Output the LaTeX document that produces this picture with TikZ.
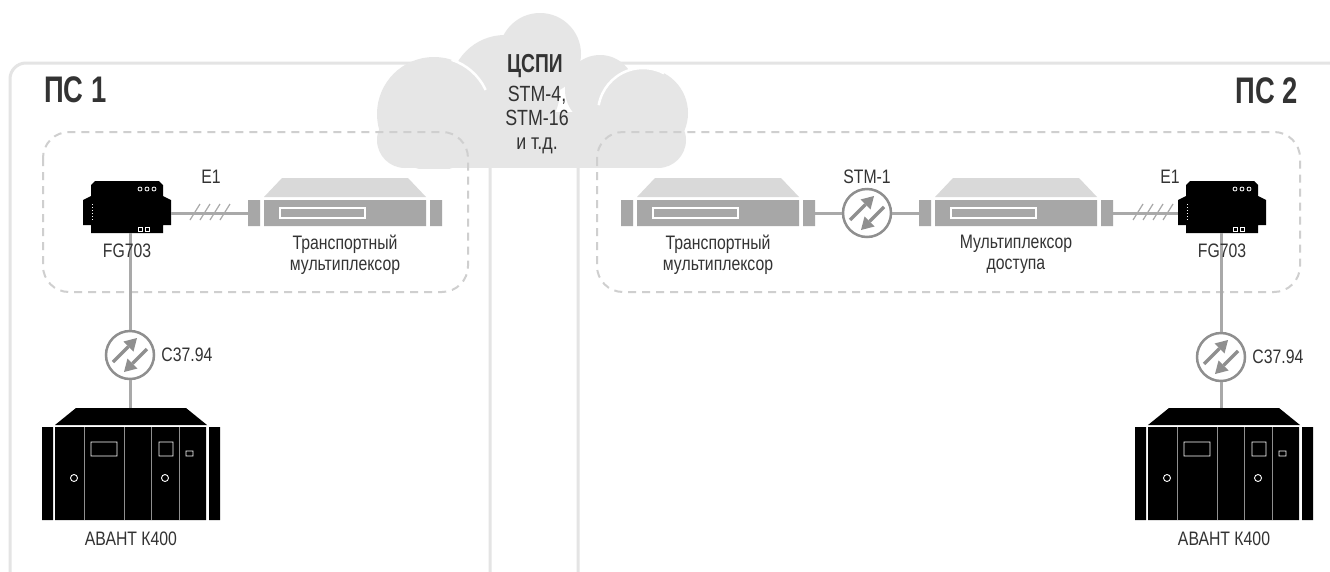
\documentclass[tikz,border=0pt]{standalone}
\usepackage{fontspec}
\setmainfont{Liberation Sans}[FakeStretch=0.81]
\newfontfamily\headfont{Liberation Sans}[FakeStretch=0.74]
\usetikzlibrary{positioning}

\definecolor{framegray}{HTML}{E4E4E4}
\definecolor{dashgray}{HTML}{CFCFCF}
\definecolor{cloudgray}{HTML}{E6E6E6}
\definecolor{linegray}{HTML}{A9A9A9}
\definecolor{devgray}{HTML}{A7A7A7}
\definecolor{devtop}{HTML}{D9D9D9}
\definecolor{icongray}{HTML}{8F8F8F}
\definecolor{textgray}{HTML}{333333}

% device icons, drawn around the centre of their node
\tikzset{
  fg703/.pic={
    \fill[black] (-32,-26) -- (32,-26) -- (36,-22) -- (36,-11) -- (44,-7) -- (44,18)
      -- (36,18) -- (36,26) -- (-36,26) -- (-36,18) -- (-44,18) -- (-44,-7)
      -- (-36,-11) -- (-36,-22) -- cycle;
    \draw[white, line width=0.8pt] (13,-18) circle (2) (20,-18) circle (2) (27,-18) circle (2);
    \foreach \d in {-3,0,...,12}
      \fill[white] (-35.5,\d) rectangle (-34,\d+1.3);
    \draw[white, line width=0.8pt] (11,20) rectangle (15,24) (18,20) rectangle (22,24);
  },
  mux/.pic={
    \fill[devtop] (-63,-35) -- (63,-35) -- (81,-16) -- (-81,-16) -- cycle;
    \fill[devgray] (-97,-13) rectangle (-85,13) (-81,-13) rectangle (81,13) (85,-13) rectangle (97,13);
    \draw[white, line width=1.5pt] (-65,-5) rectangle (20,5);
  },
  rack/.pic={
    \fill[black] (-55,-56) -- (55,-56) -- (76,-39) -- (-76,-39) -- cycle;
    \fill[black] (-76,-37) rectangle (75,56) (-89,-37) rectangle (-78,56) (78,-37) rectangle (89,56);
    \foreach \s in {-47,-7,20,48}
      \draw[icongray, line width=0.8pt] (\s,-37) -- (\s,56);
    \draw[white, line width=0.9pt] (-40,-22) rectangle (-14,-8) (28,-22) rectangle (42,-8)
      (55,-13) rectangle (62,-8) (-57,14) circle (3.5) (34,14) circle (3.5);
  }
}

\begin{document}
\begin{tikzpicture}[x=1pt,y=-1pt]
  \tikzstyle{frame}=[draw=framegray, line width=3pt, rounded corners=16pt]
  \tikzstyle{zone}=[draw=dashgray, line width=2pt, dash pattern=on 8pt off 6pt, rounded corners=26pt]
  \tikzstyle{link}=[draw=linegray, line width=3pt]
  \tikzstyle{hatch}=[draw=linegray, line width=1.2pt]
  \tikzstyle{dev}=[inner sep=0pt, outer sep=0pt]
  \tikzstyle{lbl}=[text=textgray, font=\fontsize{19.5}{21}\selectfont, align=center, inner sep=0pt]
  \tikzstyle{title}=[text=textgray, font=\headfont\bfseries\fontsize{37}{37}\selectfont, inner sep=0pt]
  \tikzstyle{optic}=[circle, draw=icongray, line width=2.5pt, fill=white, minimum size=48pt,
    inner sep=0pt, path picture={
      \begin{scope}[shift={(path picture bounding box.center)}]
        % up-right arrow
        \draw[icongray, line width=3.5pt] (-17,7) -- (-1.5,-8.5);
        \fill[icongray] (7,-17) -- (3.5,-3.5) -- (-6.5,-13.5) -- cycle;
        % down-left arrow
        \draw[icongray, line width=3.5pt] (17,-6) -- (2.5,8.5);
        \fill[icongray] (-6,17) -- (7.5,13.5) -- (-2.5,3.5) -- cycle;
      \end{scope}}]

  \useasboundingbox (0,0) rectangle (1330,571);
  \clip (0,0) rectangle (1330,571);
  \fill[white] (0,0) rectangle (1330,571);

  % substations
  \draw[frame] (10,63) rectangle (490,590);
  \draw[frame] (578,63) rectangle (1350,590);
  \node[title, anchor=base west] (ps1) at (44,102) {ПС 1};
  \node[title, anchor=base east] (ps2) at (1298,103) {ПС 2};

  % transport network cloud
  \begin{scope}
    \clip (300,0) rectangle (760,168);
    \foreach \cx/\cy/\r in {405/140/28, 434/114/57, 505/90/55, 540/54/41,
                            600/90/35, 643/113/45, 658/140/28}
      \fill[cloudgray] (\cx,\cy) circle (\r);
    \fill[cloudgray] (405,112) rectangle (660,168);
  \end{scope}
  \draw[white, line width=2.5pt] (434,114) ++(-72:57) arc[start angle=-72, end angle=-25, radius=57];
  \draw[white, line width=2.5pt] (643,113) ++(-170:45) arc[start angle=-170, end angle=-62, radius=45];
  \node[text=textgray, font=\headfont\bfseries\fontsize{26}{26}\selectfont, inner sep=0pt, anchor=base]
    (cspi) at (535,72) {ЦСПИ};
  \node[lbl, font=\fontsize{22}{24}\selectfont, anchor=north] (rates) at (537,86)
    {STM-4,\\STM-16\\и т.д.};

  \draw[zone] (43,132) rectangle (468,292);
  \draw[zone] (597,132) rectangle (1300,292);

  % ПС 1
  \node[dev, minimum width=88pt, minimum height=52pt] (fgL) at (127,207) {};
  \pic at (fgL) {fg703};
  \node[dev, minimum width=194pt, minimum height=26pt] (tmuxL) at (345,213) {};
  \pic at (tmuxL) {mux};
  \node[optic] (optL) at (130,355) {};
  \node[dev, minimum width=178pt, minimum height=112pt] (rackL) at (131,464) {};
  \pic at (rackL) {rack};

  \draw[link] (tmuxL.west) -- (tmuxL.west -| fgL.east);
  \foreach \h in {190,200,210,220}
    \draw[hatch] (\h,220) -- ++(10,-16);
  \draw[link] (fgL.south -| optL) -- (optL.north);
  \draw[link] (optL.south) -- (rackL.north -| optL);

  \node[lbl] (e1L) at (211,177) {E1};
  \node[lbl, below=11pt of fgL] (fgLtxt) {FG703};
  \node[lbl, below=9pt of tmuxL] (tmuxLtxt) {Транспортный\\мультиплексор};
  \node[lbl, right=6pt of optL] (c37L) {C37.94};
  \node[lbl, below=12pt of rackL] (rackLtxt) {АВАНТ К400};

  % ПС 2
  \node[dev, minimum width=194pt, minimum height=26pt] (tmuxR) at (718,213) {};
  \pic at (tmuxR) {mux};
  \node[optic] (optS) at (867,213) {};
  \node[dev, minimum width=194pt, minimum height=26pt] (amuxR) at (1016,213) {};
  \pic at (amuxR) {mux};
  \node[dev, minimum width=88pt, minimum height=52pt] (fgR) at (1222,207) {};
  \pic at (fgR) {fg703};
  \node[optic] (optR) at (1221,357) {};
  \node[dev, minimum width=178pt, minimum height=112pt] (rackR) at (1224,464) {};
  \pic at (rackR) {rack};

  \draw[link] (tmuxR.east) -- (optS.west);
  \draw[link] (optS.east) -- (amuxR.west);
  \draw[link] (amuxR.east) -- (amuxR.east -| fgR.west);
  \foreach \h in {1133,1143,1153,1163}
    \draw[hatch] (\h,220) -- ++(10,-16);
  \draw[link] (fgR.south -| optR) -- (optR.north);
  \draw[link] (optR.south) -- (rackR.north -| optR);

  \node[lbl, above=4pt of optS] (stm1) {STM-1};
  \node[lbl] (e1R) at (1170,177) {E1};
  \node[lbl, below=9pt of tmuxR] (tmuxRtxt) {Транспортный\\мультиплексор};
  \node[lbl, below=9pt of amuxR] (amuxRtxt) {Мультиплексор\\доступа};
  \node[lbl, below=11pt of fgR] (fgRtxt) {FG703};
  \node[lbl, right=6pt of optR] (c37R) {C37.94};
  \node[lbl, below=12pt of rackR] (rackRtxt) {АВАНТ К400};
\end{tikzpicture}
\end{document}
